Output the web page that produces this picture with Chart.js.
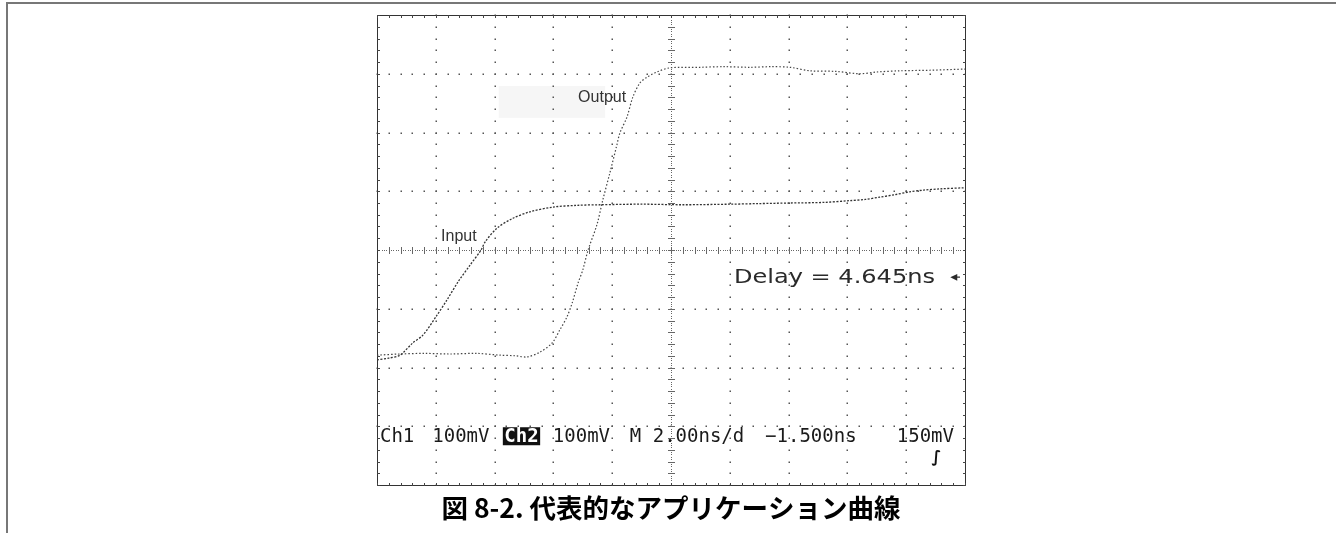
<!DOCTYPE html>
<html><head><meta charset="utf-8">
<script src="https://cdn.jsdelivr.net/npm/chart.js@4.4.1/dist/chart.umd.min.js"></script>
<style>html,body{margin:0;padding:0;background:#fff;overflow:hidden}canvas{display:block}</style>
</head><body>
<canvas id="c" width="1336" height="533"></canvas>
<script>
// time axis in screen divisions (2.00 ns/div), amplitude in divisions (100 mV/div)
const inputX = [0, 0.2, 0.39, 0.61, 0.78, 1.02, 1.19, 1.38, 1.58, 1.77, 1.84, 2.04, 2.31, 2.6, 2.99, 3.4, 3.79, 4.5, 5.2, 6.0, 6.5, 7.02, 7.6, 8.04, 8.3, 8.55, 8.8, 9.06, 9.3, 9.57, 10];
const inputY = [-1.87, -1.84, -1.79, -1.58, -1.45, -1.11, -0.85, -0.54, -0.26, 0, 0.14, 0.37, 0.54, 0.65, 0.73, 0.76, 0.77, 0.78, 0.77, 0.78, 0.79, 0.8, 0.81, 0.84, 0.86, 0.9, 0.94, 0.99, 1.02, 1.04, 1.06];
const outputX = [0, 0.39, 0.8, 1.24, 1.7, 2.09, 2.35, 2.55, 2.77, 2.98, 3.11, 3.23, 3.32, 3.42, 3.5, 3.59, 3.74, 3.84, 3.96, 4.08, 4.13, 4.25, 4.35, 4.47, 4.59, 4.76, 4.98, 5.49, 5.9, 6.34, 6.7, 7.02, 7.36, 7.8, 8.21, 8.5, 8.89, 9.4, 10];
const outputY = [-1.79, -1.77, -1.76, -1.77, -1.76, -1.79, -1.8, -1.82, -1.74, -1.58, -1.36, -1.14, -0.9, -0.56, -0.34, 0, 0.43, 0.85, 1.31, 1.79, 1.99, 2.26, 2.6, 2.84, 2.94, 3.03, 3.1, 3.11, 3.12, 3.11, 3.12, 3.11, 3.05, 3.04, 3.0, 3.03, 3.05, 3.06, 3.08];
const xDivisions = 10, yDivisions = 8, minorPerDiv = 5, finePerDiv = 25;
const traceLabels = ["Output", "Input"];
const delayText = "Delay = 4.645ns";
const readoutTokens = ["Ch1", "100mV", "Ch2", "100mV", "M 2.00ns/d", "\u22121.500ns", "150mV"];
const readoutPos = [0.05, 0.94, 2.14, 2.99, 4.30, 6.60, 8.84];
const caption = "図 8-2. 代表的なアプリケーション曲線";

const toPts = (xs, ys) => xs.map((x, i) => ({x, y: ys[i]}));

function fitText(ctx, text, x, y, targetW) {
  const w = ctx.measureText(text).width;
  ctx.save();
  ctx.translate(x, y);
  ctx.scale(targetW / w, 1);
  ctx.fillText(text, 0, 0);
  ctx.restore();
}

const scopePlugin = {
  id: 'scope',
  beforeDatasetsDraw(chart) {
    const ctx = chart.ctx, sx = chart.scales.x, sy = chart.scales.y;
    const X = v => sx.getPixelForValue(v), Y = v => sy.getPixelForValue(v);
    ctx.save();
    // outer page frame
    ctx.fillStyle = '#777';
    ctx.fillRect(6, 2, 1330, 2);
    ctx.fillRect(6, 2, 2, 531);
    // light box behind Output label
    ctx.fillStyle = '#f6f6f6';
    ctx.fillRect(X(2.07), Y(2.79), X(3.88) - X(2.07), Y(2.25) - Y(2.79));
    ctx.fillStyle = '#555';
    // dotted graticule
    for (let i = 1; i < xDivisions; i++) {
      if (i === xDivisions / 2) continue;
      for (let k = 0; k <= yDivisions * minorPerDiv; k++) {
        ctx.fillRect(Math.round(X(i)) - 0.5, Math.round(Y(-yDivisions / 2 + k / minorPerDiv)) - 0.5, 1.5, 1.5);
      }
    }
    for (let j = 1; j < yDivisions; j++) {
      if (j === yDivisions / 2) continue;
      for (let k = 0; k <= xDivisions * minorPerDiv; k++) {
        ctx.fillRect(Math.round(X(k / minorPerDiv)) - 0.5, Math.round(Y(-yDivisions / 2 + j)) - 0.5, 1.5, 1.5);
      }
    }
    // center axes with fine ticks
    ctx.fillStyle = '#666';
    const cx = Math.round(X(xDivisions / 2)), cy = Math.round(Y(0));
    for (let k = 0; k <= yDivisions * finePerDiv; k++) {
      const yy = Math.round(Y(-yDivisions / 2 + k / finePerDiv));
      ctx.fillRect(cx, yy, 1, 1);
      if (k % 5 === 0) ctx.fillRect(cx - 3, yy, 7, 1);
    }
    for (let k = 0; k <= xDivisions * finePerDiv; k++) {
      const xx = Math.round(X(k / finePerDiv));
      ctx.fillRect(xx, cy, 1, 1);
      if (k % 5 === 0) ctx.fillRect(xx, cy - 3, 1, 7);
    }
    // border with inner ticks
    const L = Math.round(X(0)), R = Math.round(X(xDivisions)), T = Math.round(Y(yDivisions / 2)), B = Math.round(Y(-yDivisions / 2));
    ctx.fillStyle = '#333';
    ctx.fillRect(L, T, R - L + 1, 1);
    ctx.fillRect(L, B, R - L + 1, 1);
    ctx.fillRect(L, T, 1, B - T);
    ctx.fillRect(R, T, 1, B - T);
    ctx.fillStyle = '#444';
    for (let k = 0; k <= xDivisions * minorPerDiv; k++) {
      const xx = Math.round(X(k / minorPerDiv));
      ctx.fillRect(xx, T, 1, 3);
      ctx.fillRect(xx, B - 2, 1, 3);
    }
    for (let k = 0; k <= yDivisions * minorPerDiv; k++) {
      const yy = Math.round(Y(-yDivisions / 2 + k / minorPerDiv));
      ctx.fillRect(L, yy, 3, 1);
      ctx.fillRect(R - 2, yy, 3, 1);
    }
    ctx.restore();
  },
  afterDatasetsDraw(chart) {
    const ctx = chart.ctx, sx = chart.scales.x, sy = chart.scales.y;
    const X = v => sx.getPixelForValue(v), Y = v => sy.getPixelForValue(v);
    ctx.save();
    ctx.textBaseline = 'middle';
    ctx.textAlign = 'left';
    ctx.fillStyle = '#333';
    ctx.font = '16px "Liberation Sans", Arial, sans-serif';
    ctx.fillText(traceLabels[0], X(3.42), Y(2.60));
    ctx.fillText(traceLabels[1], X(1.09), Y(0.22));
    ctx.font = '20px "DejaVu Sans", sans-serif';
    ctx.fillStyle = '#2a2a2a';
    fitText(ctx, delayText, X(6.07), Y(-0.47), X(9.49) - X(6.07));
    ctx.font = '14px "DejaVu Sans", sans-serif';
    ctx.fillText('\u25C2', X(9.75), Y(-0.46));
    ctx.fillRect(X(9.83), Y(-0.46) - 0.5, 5, 1.2);
    // readout line
    const rf = '19px "DejaVu Sans Mono", monospace';
    ctx.font = rf;
    const ry = Y(-3.17);
    readoutTokens.forEach((t, i) => {
      const x = X(readoutPos[i]);
      if (i === 2) {
        const w = ctx.measureText(t).width;
        ctx.fillStyle = '#111';
        ctx.fillRect(x, ry - 9, w + 3, 18);
        ctx.fillStyle = '#fff';
        ctx.font = 'bold 19px "DejaVu Sans Mono", monospace';
        ctx.fillText(t, x + 1.5, ry + 1);
        ctx.font = rf;
      } else {
        ctx.fillStyle = '#1a1a1a';
        ctx.fillText(t, x, ry + 1);
      }
    });
    // trigger slope symbol
    ctx.font = 'bold 16px "DejaVu Sans", sans-serif';
    ctx.fillStyle = '#111';
    ctx.fillText('\u222B', X(9.43), Y(-3.53));
    // caption
    ctx.font = 'bold 26.5px "Noto Sans CJK JP", sans-serif';
    ctx.fillStyle = '#000';
    ctx.textAlign = 'center';
    ctx.fillText(caption, X(xDivisions / 2), 508);
    ctx.restore();
  }
};

new Chart(document.getElementById('c'), {
  type: 'scatter',
  data: {
    datasets: [
      {label: 'Input', data: toPts(inputX, inputY), showLine: true, borderColor: '#333', borderWidth: 1.3, borderDash: [2, 1.5], pointRadius: 0, tension: 0.3},
      {label: 'Output', data: toPts(outputX, outputY), showLine: true, borderColor: '#444', borderWidth: 1.2, borderDash: [1.5, 2], pointRadius: 0, tension: 0.3}
    ]
  },
  options: {
    responsive: false, animation: false, devicePixelRatio: 1,
    layout: {padding: {left: 377, right: 371, top: 15, bottom: 48}},
    scales: {
      x: {type: 'linear', min: 0, max: xDivisions, display: false},
      y: {type: 'linear', min: -yDivisions / 2, max: yDivisions / 2, display: false}
    },
    plugins: {legend: {display: false}, tooltip: {enabled: false}}
  },
  plugins: [scopePlugin]
});
</script>
</body></html>
